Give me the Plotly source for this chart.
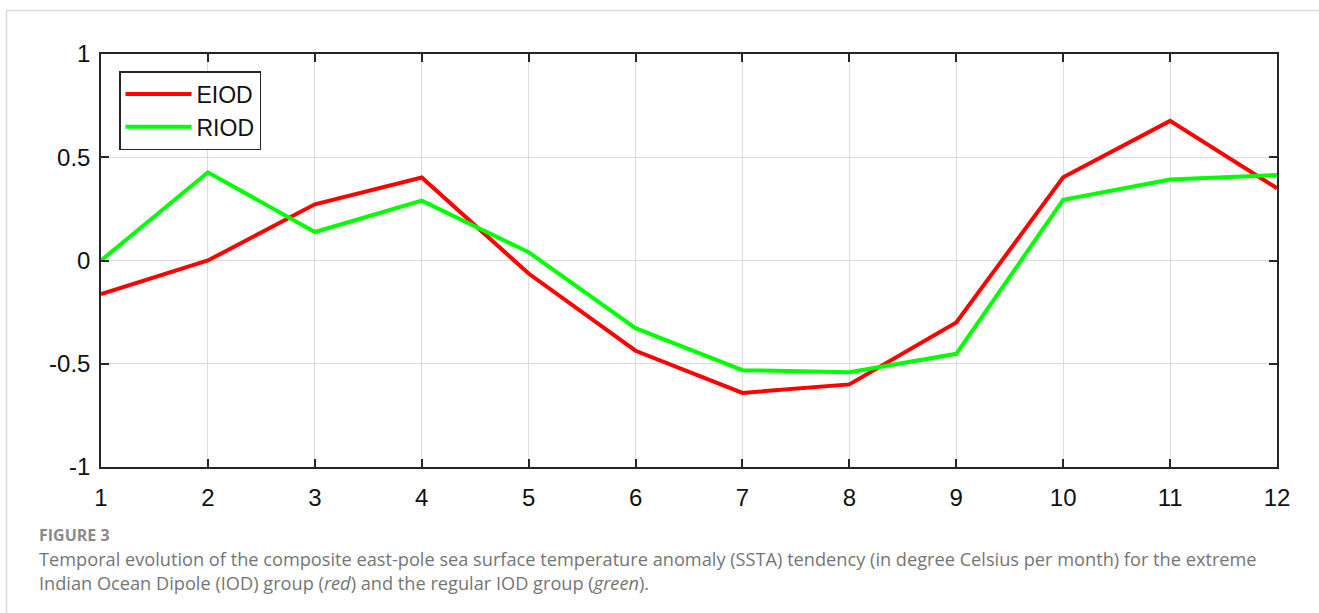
import plotly.graph_objects as go

months = [1, 2, 3, 4, 5, 6, 7, 8, 9, 10, 11, 12]
eiod = [-0.163, 0.0, 0.272, 0.402, -0.063, -0.437, -0.641, -0.600, -0.300, 0.403, 0.676, 0.350]
riod = [0.0, 0.427, 0.138, 0.290, 0.040, -0.328, -0.531, -0.541, -0.452, 0.294, 0.392, 0.414]
x_ticks = months
y_ticks = [-1, -0.5, 0, 0.5, 1]
y_tick_text = ["-1", "-0.5", "0", "0.5", "1"]

W, H = 1319, 613
L, R, T, B = 101, 42, 54, 146
pw, ph = W - L - R, H - T - B

def px_x(p):
    return (p - L) / pw

def px_y(p):
    return (H - B - p) / ph

fig = go.Figure()
fig.add_trace(go.Scatter(x=months, y=eiod, mode="lines", name="EIOD",
                         line=dict(color="#ff0000", width=4)))
fig.add_trace(go.Scatter(x=months, y=riod, mode="lines", name="RIOD",
                         line=dict(color="#00ff00", width=4)))

axis_common = dict(
    showline=True, linecolor="#262626", linewidth=1.5, mirror="ticks",
    ticks="inside", ticklen=8, tickwidth=1.5, tickcolor="#262626",
    showgrid=True, gridcolor="#dcdcdc", gridwidth=1, zeroline=False,
    tickfont=dict(family="Liberation Sans, Arial, sans-serif", size=24, color="#111111"),
)

fig.update_layout(
    width=W, height=H,
    margin=dict(l=L, r=R, t=T, b=B),
    paper_bgcolor="white", plot_bgcolor="white",
    xaxis=dict(range=[1, 12], tickvals=x_ticks, ticklabelstandoff=8, **axis_common),
    yaxis=dict(range=[-1, 1], tickvals=y_ticks, ticktext=y_tick_text, ticklabelstandoff=4, **axis_common),
    showlegend=True,
    legend=dict(
        x=px_x(119), y=px_y(71), xanchor="left", yanchor="top",
        bgcolor="white", bordercolor="#262626", borderwidth=1.5,
        font=dict(family="Liberation Sans, Arial, sans-serif", size=23, color="#111111"),
        itemwidth=66, tracegroupgap=0,
    ),
)

# outer figure frame
fig.add_shape(type="line", xref="paper", yref="paper",
              x0=px_x(6.5), x1=px_x(1330), y0=px_y(10.5), y1=px_y(10.5),
              line=dict(color="#dadada", width=1.5))
fig.add_shape(type="line", xref="paper", yref="paper",
              x0=px_x(6.5), x1=px_x(6.5), y0=px_y(10.5), y1=px_y(620),
              line=dict(color="#dadada", width=1.5))

cap_font = "Open Sans, Lato, sans-serif"
fig.add_annotation(xref="paper", yref="paper", x=px_x(37), y=px_y(535),
                   xanchor="left", yanchor="middle", showarrow=False,
                   text="<b>FIGURE 3</b>",
                   font=dict(family=cap_font, size=16, color="#8a8a8a"))
fig.add_annotation(xref="paper", yref="paper", x=px_x(37), y=px_y(559),
                   xanchor="left", yanchor="middle", showarrow=False,
                   text="Temporal evolution of the composite east-pole sea surface temperature anomaly (SSTA) tendency (in degree Celsius per month) for the extreme",
                   font=dict(family=cap_font, size=18.2, color="#757575"))
fig.add_annotation(xref="paper", yref="paper", x=px_x(37), y=px_y(583),
                   xanchor="left", yanchor="middle", showarrow=False,
                   text="Indian Ocean Dipole (IOD) group (<i>red</i>) and the regular IOD group (<i>green</i>).",
                   font=dict(family=cap_font, size=18.2, color="#757575"))

fig.write_html("out.html")
